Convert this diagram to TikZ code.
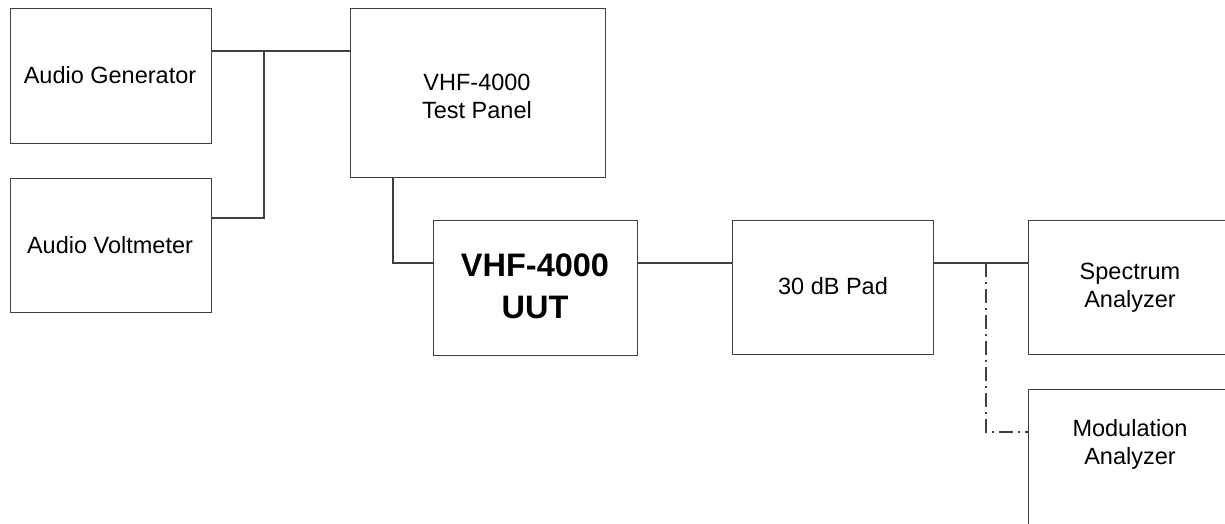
\documentclass[tikz,border=0pt]{standalone}
\usepackage{fontspec}
\setmainfont{Liberation Sans}
\begin{document}
\begin{tikzpicture}[x=1pt,y=-1pt,
  box/.style={draw=black!75, line width=1.3pt, inner sep=0pt, anchor=north west},
  wire/.style={draw=black!75, line width=1.3pt},
  dashdotwire/.style={draw=black!75, line width=1.1pt, dash pattern={on 14pt off 5pt on 2pt off 5pt}},
  lbl/.style={font=\fontsize{23.5}{28}\selectfont, align=center, inner sep=0pt, text=black},
  bigl/.style={font=\fontsize{32.5}{42}\selectfont\bfseries, align=center, inner sep=0pt, text=black}]
\useasboundingbox (0,0) rectangle (1225,523);
\clip (0,0) rectangle (1225,523);
\fill[white] (0,0) rectangle (1225,523);
% boxes
\node[box, minimum width=201pt, minimum height=135pt] (ag) at (10,8) {};
\node[box, minimum width=201pt, minimum height=134pt] (av) at (10,178) {};
\node[box, minimum width=255pt, minimum height=169pt] (tp) at (350,8) {};
\node[box, minimum width=204pt, minimum height=135pt] (uut) at (433,220) {};
\node[box, minimum width=201pt, minimum height=134pt] (pad) at (732,220) {};
\node[box, minimum width=240pt, minimum height=134pt] (sa) at (1028,220) {};
\node[box, minimum width=240pt, minimum height=170pt] (ma) at (1028,389) {};
% labels
\node[lbl] (agt) at (110,75) {Audio Generator};
\node[lbl] (avt) at (110,245) {Audio Voltmeter};
\node[lbl] (tpt) at (477,96) {VHF-4000\\Test Panel};
\node[bigl] (uutt) at (535,286) {VHF-4000\\UUT};
\node[lbl] (padt) at (833,286) {30 dB Pad};
\node[lbl] (sat) at (1130,288) {Spectrum\\Analyzer};
\node[lbl] (mat) at (1130,444) {Modulation\\Analyzer};
% junction coordinates
\coordinate (j1) at (264,51);
\coordinate (j2) at (264,218);
\coordinate (c1) at (393,263);
\coordinate (d1) at (986,263);
\coordinate (d2) at (986,432);
% connectors
\draw[wire] (ag.east |- j1) -- (tp.west |- j1);
\draw[wire] (av.east |- j2) -- (j2) -- (j1);
\draw[wire] (tp.south -| c1) -- (c1) -- (uut.west |- c1);
\draw[wire] (uut.east |- c1) -- (pad.west |- c1);
\draw[wire] (pad.east |- c1) -- (sa.west |- c1);
\draw[dashdotwire] (d1) -- (d2) -- (ma.west |- d2);
\end{tikzpicture}
\end{document}
